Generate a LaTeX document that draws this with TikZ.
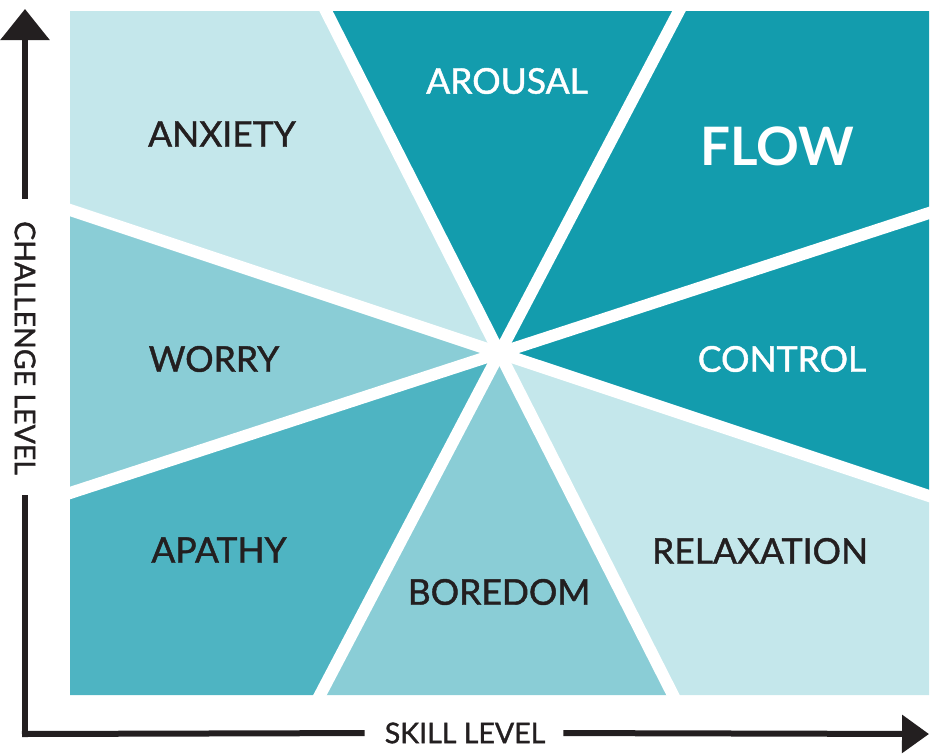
\documentclass[tikz,border=0pt]{standalone}
\usepackage{fontspec}
\setmainfont{Lato}
\newfontfamily\labelfont[FakeBold=1.2]{Lato}
\usetikzlibrary{arrows.meta,calc,positioning}
\definecolor{flowdark}{HTML}{139CAD}
\definecolor{flowmid}{HTML}{4EB4C2}
\definecolor{flowsoft}{HTML}{8ACDD6}
\definecolor{flowpale}{HTML}{C4E7EB}
\definecolor{inkdark}{HTML}{231F20}
\tikzset{
  wedgelabel/.style={inner sep=0pt, font=\labelfont\fontsize{35.5}{40}\selectfont},
  darklabel/.style={wedgelabel, text=inkdark},
  lightlabel/.style={wedgelabel, text=white},
  axislabel/.style={inner sep=0pt, text=inkdark, font=\labelfont\fontsize{28.5}{32}\selectfont},
  axisline/.style={line width=6pt, draw=inkdark},
  divider/.style={white, line width=12pt, shorten <=-8pt, shorten >=-8pt},
}

\begin{document}
\begin{tikzpicture}[x=1pt,y=-1pt]
\useasboundingbox (0,0) rectangle (933,753);

% Corners, centre and edge points.
\coordinate (TL) at (70,11);
\coordinate (TR) at (929,11);
\coordinate (BR) at (929,695);
\coordinate (BL) at (70,695);
\coordinate (C) at (500,353);
\coordinate (T1) at (326,11);
\coordinate (T2) at (679,11);
\coordinate (R1) at (929,213);
\coordinate (R2) at (929,496);
\coordinate (B1) at (673,695);
\coordinate (B2) at (320,695);
\coordinate (L1) at (70,493);
\coordinate (L2) at (70,210);

% Draw wedges.
\fill[flowpale] (C) -- (L2) -- (TL) -- (T1) -- cycle;
\fill[flowdark] (C) -- (T1) -- (T2) -- cycle;
\fill[flowdark] (C) -- (T2) -- (TR) -- (R1) -- cycle;
\fill[flowdark] (C) -- (R1) -- (R2) -- cycle;
\fill[flowpale] (C) -- (R2) -- (BR) -- (B1) -- cycle;
\fill[flowsoft] (C) -- (B1) -- (B2) -- cycle;
\fill[flowmid] (C) -- (B2) -- (BL) -- (L1) -- cycle;
\fill[flowsoft] (C) -- (L1) -- (L2) -- cycle;

% Draw dividers.
\draw[divider] (T1) -- (B1);
\draw[divider] (T2) -- (B2);
\draw[divider] (L2) -- (R2);
\draw[divider] (R1) -- (L1);
\fill[white] (C) circle (10);

% Wedge labels.
\node[darklabel] (anxiety) at (222,134) {ANXIETY};
\node[lightlabel] (arousal) at (507,81) {AROUSAL};
\node[lightlabel, font=\fontsize{53}{60}\selectfont\bfseries] (flow) at (777,146) {FLOW};
\node[darklabel] (worry) at (214,359) {WORRY};
\node[lightlabel] (control) at (782,359) {CONTROL};
\node[darklabel] (apathy) at (219,550) {APATHY};
\node[darklabel] (boredom) at (499,592) {BOREDOM};
\node[darklabel] (relaxation) at (760,551) {RELAXATION};

% Draw axes.
\coordinate (ytip) at (25,9);
\coordinate (origin) at (25,734);
\coordinate (xtip) at (929,734);
\node[axislabel, rotate=-90] (challenge) at (25,348) {CHALLENGE LEVEL};
\node[axislabel] (skill) at (465,733) {SKILL LEVEL};

\draw[axisline, -{Triangle[width=48pt,length=31pt]}, shorten <=22pt]
(challenge.west) -- (ytip);
\draw[axisline, shorten >=20pt] (origin) -- (challenge.east);
\draw[axisline, shorten >=20pt] ([xshift=-3pt]origin) -- (skill.west);
\draw[axisline, -{Triangle[width=37pt,length=27pt]}, shorten <=18pt]
(skill.east) -- (xtip);
\end{tikzpicture}
\end{document}
